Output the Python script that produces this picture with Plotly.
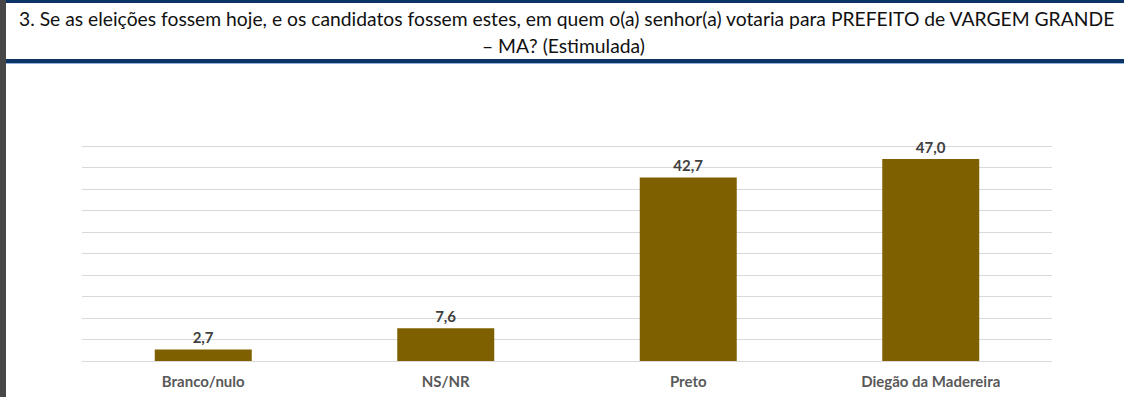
import plotly.graph_objects as go

categories = ["Branco/nulo", "NS/NR", "Preto", "Diegão da Madereira"]
values = [2.7, 7.6, 42.7, 47.0]
title_line1 = "3. Se as eleições fossem hoje, e os candidatos fossem estes, em quem o(a) senhor(a) votaria para PREFEITO de VARGEM GRANDE"
title_line2 = "– MA? (Estimulada)"

W, H = 1124, 397
L, R, T, B = 82, 72, 140, 36

fig = go.Figure(go.Bar(
    x=categories, y=values,
    marker=dict(color="#7f6000", line=dict(width=0)),
    width=0.4,
    texttemplate="%{y:.1f}", textposition="outside",
    textfont=dict(family="Lato", size=15, color="#404040", weight="bold"),
    cliponaxis=False,
))

def py(ypix):
    return (H - B - ypix) / (H - T - B)

def px(xpix):
    return (xpix - L) / (W - L - R)

fig.update_layout(
    width=W, height=H,
    margin=dict(l=L, r=R, t=T, b=B, autoexpand=False),
    paper_bgcolor="white", plot_bgcolor="white",
    separators=",.",
    showlegend=False,
    bargap=0.6,
    xaxis=dict(showgrid=False, showline=False, zeroline=False, ticks="", automargin=False,
               tickfont=dict(family="Lato", size=15, color="#595959", weight="bold"),
               ticklabelstandoff=10),
    yaxis=dict(range=[0, 51.4], tick0=0, dtick=5, showgrid=True, gridcolor="#d9d9d9", gridwidth=1,
               showticklabels=False, zeroline=True, zerolinecolor="#d9d9d9", zerolinewidth=1,
               showline=False, ticks="", automargin=False),
    font=dict(family="Lato"),
)

fig.add_annotation(text=title_line1, xref="paper", yref="paper", x=px(566), y=py(19),
                   showarrow=False, xanchor="center", yanchor="middle",
                   font=dict(family="Lato", size=19.3, color="#111111"))
fig.add_annotation(text=title_line2, xref="paper", yref="paper", x=px(563), y=py(45),
                   showarrow=False, xanchor="center", yanchor="middle",
                   font=dict(family="Lato", size=19.3, color="#111111"))

shapes = [
    dict(type="rect", xref="paper", yref="paper", x0=px(6), x1=px(W), y0=py(0), y1=py(3),
         fillcolor="#0d3466", line=dict(width=0), layer="above"),
    dict(type="rect", xref="paper", yref="paper", x0=px(6), x1=px(W), y0=py(59), y1=py(63),
         fillcolor="#0d3466", line=dict(width=0), layer="above"),
    dict(type="rect", xref="paper", yref="paper", x0=px(6), x1=px(W), y0=py(63), y1=py(64),
         fillcolor="#8fb3d9", line=dict(width=0), layer="above"),
    dict(type="rect", xref="paper", yref="paper", x0=px(0), x1=px(6), y0=py(0), y1=py(H),
         fillcolor="#474747", line=dict(width=0), layer="above"),
]
fig.update_layout(shapes=shapes)

fig.write_html("out.html", config={"displayModeBar": False},
               post_script="document.body.style.margin='0';document.body.style.overflow='hidden';")
